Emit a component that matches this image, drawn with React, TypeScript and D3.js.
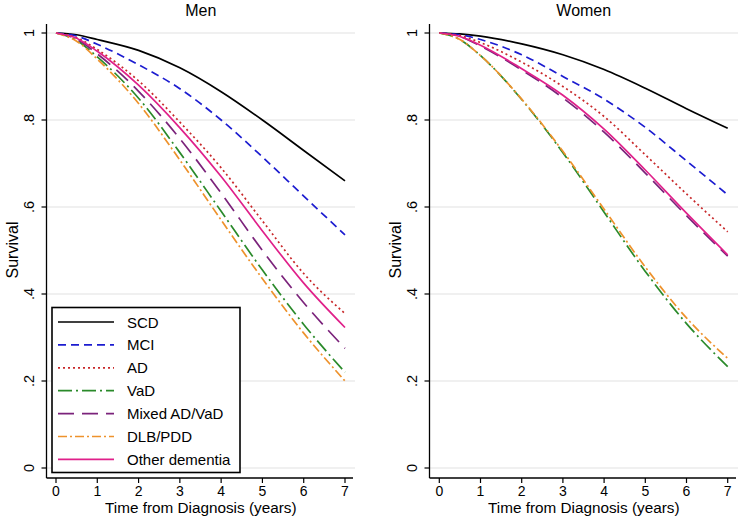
import React from "react";
import * as d3 from "d3";

const years = [0, 0.5, 1, 2, 3, 4, 5, 6, 7];
const categories = ["SCD", "MCI", "AD", "VaD", "Mixed AD/VaD", "DLB/PDD", "Other dementia"];
const xTicks = [0, 1, 2, 3, 4, 5, 6, 7];
const yTicks = [0, 0.2, 0.4, 0.6, 0.8, 1];
const yTickLabels = ["0", ".2", ".4", ".6", ".8", "1"];

const menSCD = [1, 0.996, 0.985, 0.96, 0.92, 0.865, 0.8, 0.73, 0.66];
const menMCI = [1, 0.993, 0.974, 0.927, 0.872, 0.8, 0.715, 0.625, 0.536];
const menAD = [1, 0.989, 0.962, 0.89, 0.795, 0.69, 0.568, 0.447, 0.355];
const menVaD = [1, 0.983, 0.945, 0.85, 0.725, 0.59, 0.455, 0.33, 0.22];
const menMixed = [1, 0.986, 0.952, 0.866, 0.757, 0.632, 0.5, 0.38, 0.275];
const menDLB = [1, 0.981, 0.94, 0.838, 0.708, 0.57, 0.435, 0.31, 0.2];
const menOther = [1, 0.988, 0.958, 0.88, 0.782, 0.67, 0.545, 0.425, 0.323];

const womenSCD = [1, 0.998, 0.993, 0.975, 0.95, 0.916, 0.873, 0.826, 0.781];
const womenMCI = [1, 0.996, 0.985, 0.95, 0.9, 0.848, 0.783, 0.706, 0.628];
const womenAD = [1, 0.994, 0.978, 0.933, 0.877, 0.808, 0.72, 0.63, 0.543];
const womenVaD = [1, 0.985, 0.948, 0.847, 0.725, 0.588, 0.452, 0.332, 0.233];
const womenMixed = [1, 0.992, 0.97, 0.915, 0.851, 0.772, 0.678, 0.58, 0.487];
const womenDLB = [1, 0.985, 0.948, 0.848, 0.728, 0.595, 0.462, 0.345, 0.252];
const womenOther = [1, 0.992, 0.972, 0.918, 0.857, 0.779, 0.685, 0.586, 0.49];

const colors = ["#000000", "#1c1cd0", "#c8282a", "#2a8a2a", "#7b237b", "#ee922c", "#e0208a"];
const dashes = ["", "8,5", "2,3", "14,4,2,4", "16,8", "9,3,2,3", ""];

const menSeries = [menSCD, menMCI, menAD, menVaD, menMixed, menDLB, menOther];
const womenSeries = [womenSCD, womenMCI, womenAD, womenVaD, womenMixed, womenDLB, womenOther];

const FONT = "'Liberation Sans', Arial, Helvetica, sans-serif";

type PanelProps = {
  title: string;
  series: number[][];
  axisX: number;
  x0: number;
  x7: number;
  right: number;
  tickLabelX: number;
  titleX: number;
  legend: boolean;
};

function Panel({ title, series, axisX, x0, x7, right, tickLabelX, titleX, legend }: PanelProps) {
  const x = d3.scaleLinear().domain([0, 7]).range([x0, x7]);
  const y = d3.scaleLinear().domain([0, 1]).range([468, 33]);
  const line = d3
    .line<number>()
    .x((_, i) => x(years[i]))
    .y((d) => y(d))
    .curve(d3.curveMonotoneX);
  const axisY = 478;
  const center = (axisX + right) / 2;
  return (
    <g fontFamily={FONT}>
      <text x={center} y={16} textAnchor="middle" fontSize={16}>
        {title}
      </text>
      {yTicks.map((t) => (
        <line key={"g" + t} x1={axisX} x2={right} y1={y(t)} y2={y(t)} stroke="#e2e2e2" strokeWidth={1.2} />
      ))}
      {series.map((s, i) => (
        <path
          key={i}
          d={line(s) || ""}
          fill="none"
          stroke={colors[i]}
          strokeWidth={1.7}
          strokeDasharray={dashes[i] || undefined}
        />
      ))}
      <line x1={axisX} x2={axisX} y1={24} y2={axisY} stroke="#000" strokeWidth={1.3} />
      <line x1={axisX} x2={right - 2} y1={axisY} y2={axisY} stroke="#000" strokeWidth={1.3} />
      {yTicks.map((t, i) => (
        <g key={"yt" + t}>
          <line x1={axisX - 5} x2={axisX} y1={y(t)} y2={y(t)} stroke="#000" strokeWidth={1.2} />
          <text
            transform={`translate(${tickLabelX},${y(t)}) rotate(-90)`}
            textAnchor="middle"
            fontSize={14.5}
          >
            {yTickLabels[i]}
          </text>
        </g>
      ))}
      {xTicks.map((t) => (
        <g key={"xt" + t}>
          <line x1={x(t)} x2={x(t)} y1={axisY} y2={axisY + 5} stroke="#000" strokeWidth={1.2} />
          <text x={x(t)} y={495.5} textAnchor="middle" fontSize={14}>
            {t}
          </text>
        </g>
      ))}
      <text transform={`translate(${titleX},250) rotate(-90)`} textAnchor="middle" fontSize={16}>
        Survival
      </text>
      <text x={center} y={513} textAnchor="middle" fontSize={15.3}>
        Time from Diagnosis (years)
      </text>
      {legend && (
        <g>
          <rect x={52} y={307.5} width={188} height={165} fill="#fff" stroke="#000" strokeWidth={1.6} />
          {categories.map((c, i) => {
            const ly = 322 + i * 22.9;
            return (
              <g key={c}>
                <line
                  x1={58}
                  x2={114}
                  y1={ly}
                  y2={ly}
                  stroke={colors[i]}
                  strokeWidth={1.7}
                  strokeDasharray={dashes[i] || undefined}
                />
                <text x={127} y={ly + 5.5} fontSize={15}>
                  {c}
                </text>
              </g>
            );
          })}
        </g>
      )}
    </g>
  );
}

export default function App() {
  return (
    <svg
      width={742}
      height={524}
      style={{ position: "absolute", left: 0, top: 0, background: "#fff" }}
    >
      <rect width={742} height={524} fill="#fff" />
      <Panel
        title="Men"
        series={menSeries}
        axisX={46.5}
        x0={56}
        x7={345}
        right={355}
        tickLabelX={34}
        titleX={18}
        legend={true}
      />
      <Panel
        title="Women"
        series={womenSeries}
        axisX={429.5}
        x0={439.3}
        x7={727.7}
        right={738}
        tickLabelX={417}
        titleX={401}
        legend={false}
      />
    </svg>
  );
}
